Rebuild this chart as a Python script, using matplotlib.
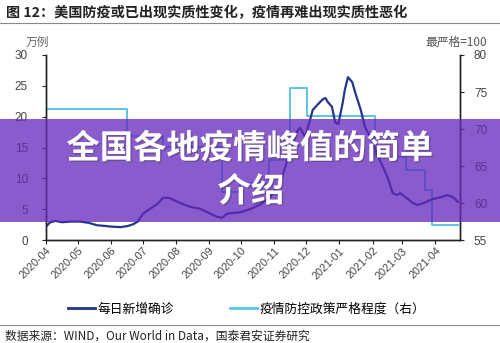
import matplotlib
matplotlib.use("Agg")
import matplotlib.pyplot as plt
import matplotlib.dates as mdates
import matplotlib.patheffects as pe
from matplotlib.patches import Rectangle
from matplotlib.lines import Line2D
import pandas as pd

plt.rcParams['font.family'] = ['Liberation Sans', 'Noto Sans CJK SC']
cjk = ['Noto Sans CJK SC', 'DejaVu Sans']

# daily new confirmed cases (万例)
case_dates = ['2020-04-01', '2020-04-05', '2020-04-10', '2020-04-16', '2020-04-24',
              '2020-05-03', '2020-05-11', '2020-05-19', '2020-05-26', '2020-05-31',
              '2020-06-10', '2020-06-17', '2020-06-22', '2020-06-26', '2020-07-01',
              '2020-07-07', '2020-07-14', '2020-07-20', '2020-07-26', '2020-08-05',
              '2020-08-14', '2020-08-23', '2020-09-02', '2020-09-08', '2020-09-13',
              '2020-09-18', '2020-09-30', '2020-10-09', '2020-10-19', '2020-10-28',
              '2020-11-07', '2020-11-16', '2020-11-22', '2020-11-25', '2020-11-30',
              '2020-12-07', '2020-12-14', '2020-12-17', '2020-12-19', '2020-12-21',
              '2020-12-25', '2020-12-28', '2020-12-31', '2021-01-04', '2021-01-06',
              '2021-01-09', '2021-01-13', '2021-01-16', '2021-01-21', '2021-01-25',
              '2021-01-30', '2021-02-05', '2021-02-11', '2021-02-15', '2021-02-20',
              '2021-02-24', '2021-02-27', '2021-03-05', '2021-03-11', '2021-03-15',
              '2021-03-21', '2021-03-27', '2021-04-02', '2021-04-07', '2021-04-12',
              '2021-04-17', '2021-04-22']
case_vals = [2.2, 2.9, 3.1, 2.9, 3.0,
             3.0, 2.8, 2.4, 2.3, 2.2,
             2.1, 2.3, 2.6, 3.0, 4.3,
             5.0, 5.8, 6.9, 6.8, 6.0,
             5.4, 5.1, 4.3, 3.8, 3.6,
             4.3, 4.5, 5.0, 5.8, 7.0,
             9.5, 14.5, 17.5, 18.2, 16.7,
             21.1, 22.4, 22.9, 23.0, 22.4,
             21.6, 19.1, 18.8, 22.2, 24.3,
             26.4, 25.6, 23.8, 21.1, 18.3,
             16.7, 14.0, 11.8, 10.2, 7.6,
             7.3, 7.6, 6.8, 6.0, 5.7,
             6.0, 6.5, 6.8, 7.0, 7.3,
             7.0, 6.2]

# stringency index (right axis), step changes
policy_dates = ['2020-04-01', '2020-06-16', '2020-07-20', '2020-09-13', '2020-09-30',
                '2020-10-27', '2020-11-16', '2020-12-02', '2021-02-03', '2021-03-04',
                '2021-03-22', '2021-03-29', '2021-04-22']
policy_vals = [72.7, 69.0, 67.6, 61.5, 62.7,
               65.8, 75.5, 71.8, 66.2, 64.4,
               61.8, 57.0, 57.0]

title = '图 12：美国防疫或已出现实质性变化，疫情再难出现实质性恶化'
legend_labels = ['每日新增确诊', '疫情防控政策严格程度（右）']
source = '数据来源：WIND，Our World in Data，国泰君安证券研究'
banner_lines = ['全国各地疫情峰值的简单', '介绍']

dark = '#25358a'
light = '#5cc3e6'

fig = plt.figure(figsize=(5, 3.43), dpi=100)
ax = fig.add_axes([0.092, 0.300, 0.828, 0.5397])
ax2 = ax.twinx()

cd = pd.to_datetime(case_dates)
pdts = pd.to_datetime(policy_dates)
ax2.plot(pdts, policy_vals, color=light, lw=1.4, drawstyle='steps-post')
ax.plot(cd, case_vals, color=dark, lw=1.6)
ax.set_zorder(ax2.get_zorder() + 1)
ax.patch.set_visible(False)

ax.set_ylim(0, 30)
ax.set_yticks(range(0, 31, 5))
ax2.set_ylim(55, 80)
ax2.set_yticks(range(55, 81, 5))
ax.set_xlim(pd.Timestamp('2020-04-01'), pd.Timestamp('2021-04-24'))
ax.xaxis.set_major_locator(mdates.MonthLocator())
ax.xaxis.set_major_formatter(mdates.DateFormatter('%Y-%m'))
for lbl in ax.get_xticklabels():
    lbl.set_rotation(45)
    lbl.set_ha('right')
    lbl.set_rotation_mode('anchor')

for a in (ax, ax2):
    a.spines['top'].set_visible(False)
    for s in ('left', 'right', 'bottom'):
        a.spines[s].set_color('#222222')
        a.spines[s].set_linewidth(1.0)
    a.tick_params(direction='out', length=3, width=0.8, color='#222222',
                  labelsize=8.5, labelcolor='#444444')
ax.tick_params(axis='y', pad=10)
ax2.tick_params(axis='y', pad=7)
ax.tick_params(axis='x', labelsize=7.8, pad=1)

# title, rule lines and notes
fig.text(0.012, 0.962, title, fontsize=10.2, fontweight='bold', family=cjk,
         color='#222222', va='center', ha='left')
fig.add_artist(Line2D([0, 1], [0.933, 0.933], color='#888888', lw=0.8))
fig.text(0.075, 0.877, '万例', fontsize=8.5, family=cjk, color='#666666',
         ha='center', va='center')
fig.text(0.974, 0.877, '最严格=100', fontsize=8.5, family=cjk, color='#555555',
         ha='right', va='center')

handles = [Line2D([], [], color=dark, lw=2), Line2D([], [], color=light, lw=2)]
fig.legend(handles, legend_labels, loc='center', bbox_to_anchor=(0.493, 0.099),
           ncol=2, frameon=False, handlelength=2.1, handletextpad=0.2,
           columnspacing=4.4, prop={'family': cjk, 'size': 9.2})
fig.add_artist(Line2D([0, 1], [0.052, 0.052], color='#888888', lw=0.8))
fig.text(0.01, 0.019, source, fontsize=8.5, family=cjk, color='#222222',
         ha='left', va='center')

# purple overlay banner
fig.add_artist(Rectangle((0, 1 - 222 / 343), 1, 103 / 343, transform=fig.transFigure,
                         facecolor='#6428bc', alpha=0.76, edgecolor='none', zorder=10))
shadow = [pe.withSimplePatchShadow(offset=(1, -1), shadow_rgbFace='#333333', alpha=0.35)]
fig.text(0.5, 0.566, banner_lines[0], fontsize=24, fontweight='bold', family=cjk,
         color='white', ha='center', va='center', zorder=11, path_effects=shadow)
fig.text(0.502, 0.440, banner_lines[1], fontsize=24, fontweight='bold', family=cjk,
         color='white', ha='center', va='center', zorder=11, path_effects=shadow)

fig.savefig('out.png', dpi=100)
